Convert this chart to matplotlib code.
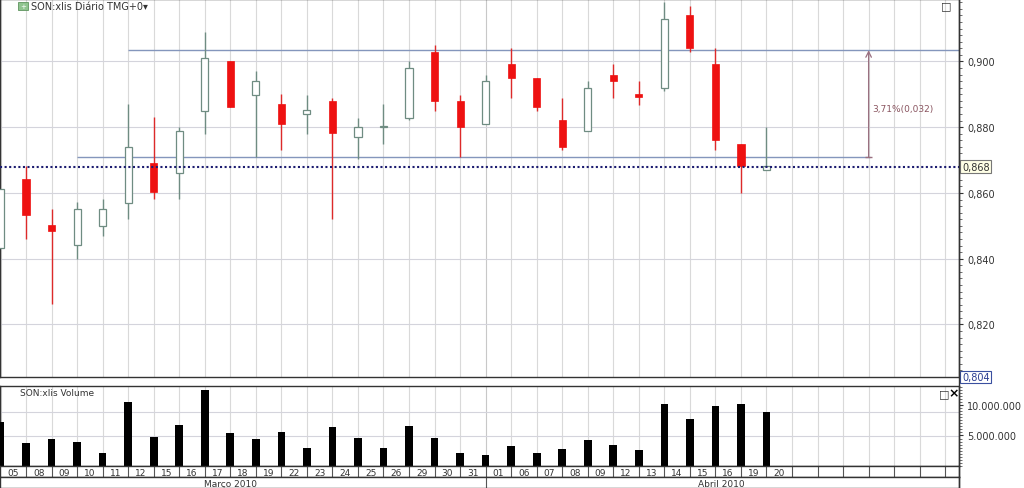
import matplotlib
matplotlib.use('Agg')
import matplotlib.pyplot as plt
from matplotlib.ticker import FuncFormatter, MultipleLocator
from matplotlib.patches import Rectangle
from matplotlib.lines import Line2D

# dados (pregões de marco e abril de 2010)
dias = ['05', '08', '09', '10', '11', '12', '15', '16', '17', '18', '19', '22', '23', '24', '25', '26',
        '29', '30', '31', '01', '06', '07', '08', '09', '12', '13', '14', '15', '16', '19', '20']
abertura = [0.8431, 0.8643, 0.8501, 0.8442, 0.8499, 0.8570, 0.8690, 0.8661, 0.8850, 0.9000, 0.8899,
            0.8871, 0.8841, 0.8880, 0.8771, 0.8801, 0.8827, 0.9030, 0.8880, 0.8809, 0.8992, 0.8949,
            0.8821, 0.8788, 0.8960, 0.8900, 0.8919, 0.9140, 0.8991, 0.8750, 0.8669]
maxima = [0.8613, 0.8681, 0.8552, 0.8572, 0.8582, 0.8871, 0.8830, 0.8801, 0.9089, 0.9000, 0.8970,
          0.8900, 0.8899, 0.8890, 0.8829, 0.8871, 0.9000, 0.9051, 0.8897, 0.8960, 0.9040, 0.8949,
          0.8890, 0.8942, 0.8991, 0.8942, 0.9180, 0.9170, 0.9040, 0.8750, 0.8800]
minima = [0.8431, 0.8460, 0.8262, 0.8399, 0.8470, 0.8521, 0.8582, 0.8582, 0.8780, 0.8860, 0.8710,
          0.8730, 0.8780, 0.8521, 0.8702, 0.8750, 0.8823, 0.8850, 0.8710, 0.8809, 0.8888, 0.8850,
          0.8732, 0.8788, 0.8890, 0.8869, 0.8909, 0.9028, 0.8730, 0.8600, 0.8669]
fechamento = [0.8613, 0.8532, 0.8483, 0.8552, 0.8552, 0.8740, 0.8602, 0.8789, 0.9010, 0.8860, 0.8941,
              0.8810, 0.8852, 0.8783, 0.8801, 0.8801, 0.8980, 0.8880, 0.8801, 0.8941, 0.8949, 0.8860,
              0.8740, 0.8920, 0.8941, 0.8891, 0.9130, 0.9040, 0.8760, 0.8681, 0.8681]
volume = [7.28, 3.76, 4.46, 3.97, 2.07, 10.49, 4.79, 6.74, 12.44, 5.39, 4.41, 5.60, 2.95, 6.42, 4.63, 2.95,
          6.63, 4.58, 2.18, 1.74, 3.27, 2.07, 2.78, 4.30, 3.49, 2.67, 10.16, 7.67, 9.89, 10.16, 8.86]
volume = [v * 1e6 for v in volume]
meses = ['Março 2010', 'Abril 2010']
ultimo = 0.868
linha_sup = 0.9034
linha_inf = 0.8710

n = len(dias)
x = list(range(n))
xmax = 37.54
borda = '#333333'
grade = '#d9d9d9'

fig = plt.figure(figsize=(10.24, 4.89), dpi=100)
ax = fig.add_axes([0, 1 - 378 / 489, 959 / 1024, 378 / 489])
axv = fig.add_axes([0, 1 - 467 / 489, 959 / 1024, 80 / 489], sharex=ax)
axd = fig.add_axes([0, 1 - 478 / 489, 959 / 1024, 11 / 489], sharex=ax)
axm = fig.add_axes([0, 0, 959 / 1024, 11 / 489], sharex=ax)

# eixo da direita continua entre os paineis
fig.add_artist(Line2D([959 / 1024, 959 / 1024], [0, 1], color=borda, lw=1))

# grade vertical
for a in (ax, axv):
    for i in range(int(xmax) + 1):
        a.axvline(i, color='#c8c8c8' if i == 19 else grade, lw=0.8, zorder=0)

# painel de preco
ax.set_xlim(-0.02, xmax)
ax.set_ylim(0.804, 0.919)
for yv in [0.82, 0.84, 0.86, 0.88, 0.90]:
    ax.axhline(yv, color='#d4d4dc', lw=0.8, zorder=0)

for i in x:
    o, h, l, c = abertura[i], maxima[i], minima[i], fechamento[i]
    alta = c >= o
    cor_pavio = '#6f8c82' if alta else '#dd2a2a'
    ax.vlines(i, l, h, color=cor_pavio, lw=1, zorder=2)
    base = min(o, c)
    alt = max(abs(c - o), 0.0004)
    if alta:
        ax.bar(i, alt, bottom=base, width=0.28, facecolor='white', edgecolor='#6f8c82', lw=0.9, zorder=3)
    else:
        ax.bar(i, alt, bottom=base, width=0.28, facecolor='#ee1111', edgecolor='#ee1111', lw=0.5, zorder=3)

# linhas de tendencia e ultimo preco
ax.hlines(linha_sup, 5, xmax, color='#8496bc', lw=1, zorder=1)
ax.hlines(linha_inf, 3, 34.05, color='#8496bc', lw=1, zorder=1)
ax.axhline(ultimo, color='#1c1c70', lw=1.5, ls=(0, (1, 1.2)), zorder=4)

ax.annotate('', xy=(34.0, linha_sup), xytext=(34.0, linha_inf),
            arrowprops=dict(arrowstyle='->', color='#9a7080', lw=0.9, shrinkA=0, shrinkB=0))
ax.hlines(linha_inf, 33.85, 34.15, color='#9a7080', lw=1, zorder=4)
ax.text(34.15, 0.8857, '3,71%(0,032)', color='#8a5560', fontsize=6.5, va='center', ha='left')

ax.yaxis.tick_right()
ax.yaxis.set_major_locator(MultipleLocator(0.02))
ax.yaxis.set_minor_locator(MultipleLocator(0.002))
ax.yaxis.set_major_formatter(FuncFormatter(lambda v, p: f'{v:.3f}'.replace('.', ',')))
ax.tick_params(axis='y', which='major', length=3, pad=3, labelsize=7, labelcolor='#333333', color=borda)
ax.tick_params(axis='y', which='minor', length=2, color='#555555')
ax.tick_params(axis='x', bottom=False, labelbottom=False)
for s in ax.spines.values():
    s.set_color(borda)
    s.set_linewidth(1)

ax.text(1.003, (ultimo - 0.804) / (0.919 - 0.804), '0,868', transform=ax.transAxes, fontsize=7,
        va='center', ha='left', color='#333333', zorder=10,
        bbox=dict(boxstyle='square,pad=0.15', facecolor='#ffffe6', edgecolor='#777777', lw=0.8))
ax.text(1.003, 0.0, '0,804', transform=ax.transAxes, fontsize=7, va='center', ha='left',
        color='#2a3c90', zorder=10, clip_on=False,
        bbox=dict(boxstyle='square,pad=0.15', facecolor='white', edgecolor='#3a50a0', lw=0.8))

# titulo e icones
ax.add_patch(Rectangle((18 / 959, 1 - 11 / 378), 10 / 959, 8 / 378, transform=ax.transAxes,
                       facecolor='#8fc48f', edgecolor='#5f945f', lw=0.6, zorder=10))
ax.text(23 / 959, 1 - 7 / 378, '+', transform=ax.transAxes, fontsize=5, color='white',
        ha='center', va='center', zorder=11)
ax.text(31 / 959, 1 - 7 / 378, 'SON:xlis Diário TMG+0▾', transform=ax.transAxes, fontsize=7,
        color='#333333', va='center', ha='left')
ax.text(946 / 959, 1 - 6 / 378, '□', transform=ax.transAxes, fontsize=8, color='#333333',
        va='center', ha='center')

# painel de volume
axv.bar(x, volume, width=0.3, color='black', zorder=3)
axv.set_ylim(0, 13.1e6)
for yv in [4.9e6, 8.9e6]:
    axv.axhline(yv, color='#d4d4dc', lw=0.8, zorder=0)
axv.yaxis.tick_right()
axv.set_yticks([5e6, 10e6])
axv.yaxis.set_minor_locator(MultipleLocator(0.5e6))
axv.yaxis.set_major_formatter(FuncFormatter(lambda v, p: f'{int(v):,}'.replace(',', '.')))
axv.tick_params(axis='y', which='major', length=3, pad=3, labelsize=7, labelcolor='#333333', color=borda)
axv.tick_params(axis='y', which='minor', length=2, color='#555555')
axv.tick_params(axis='x', bottom=False, labelbottom=False)
for s in axv.spines.values():
    s.set_color(borda)
    s.set_linewidth(1)
axv.text(20 / 959, 1 - 7 / 80, 'SON:xlis Volume', transform=axv.transAxes, fontsize=6.5,
         color='#333333', va='center', ha='left')
axv.text(944 / 959, 1 - 7 / 80, '□', transform=axv.transAxes, fontsize=8, color='#333333',
         va='center', ha='center')
axv.text(954 / 959, 1 - 7 / 80, '×', transform=axv.transAxes, fontsize=9, color='black',
         fontweight='bold', va='center', ha='center')

# linha de datas
axd.set_ylim(0, 1)
for i in range(1, int(xmax) + 1):
    axd.axvline(i, color='#555555', lw=0.8)
for i in x:
    axd.text(i + 0.5, 0.45, dias[i], fontsize=6.5, color='#333333', ha='center', va='center')
axd.set_xticks([])
axd.set_yticks([])
for s in axd.spines.values():
    s.set_color(borda)
    s.set_linewidth(1)

# linha dos meses
axm.set_ylim(0, 1)
axm.axvline(19, color='#555555', lw=0.8)
axm.text(9.0, 0.45, meses[0], fontsize=6.5, color='#333333', ha='center', va='center')
axm.text(28.25, 0.45, meses[1], fontsize=6.5, color='#333333', ha='center', va='center')
axm.set_xticks([])
axm.set_yticks([])
for s in axm.spines.values():
    s.set_color(borda)
    s.set_linewidth(1)

fig.savefig('out.png', dpi=100)
